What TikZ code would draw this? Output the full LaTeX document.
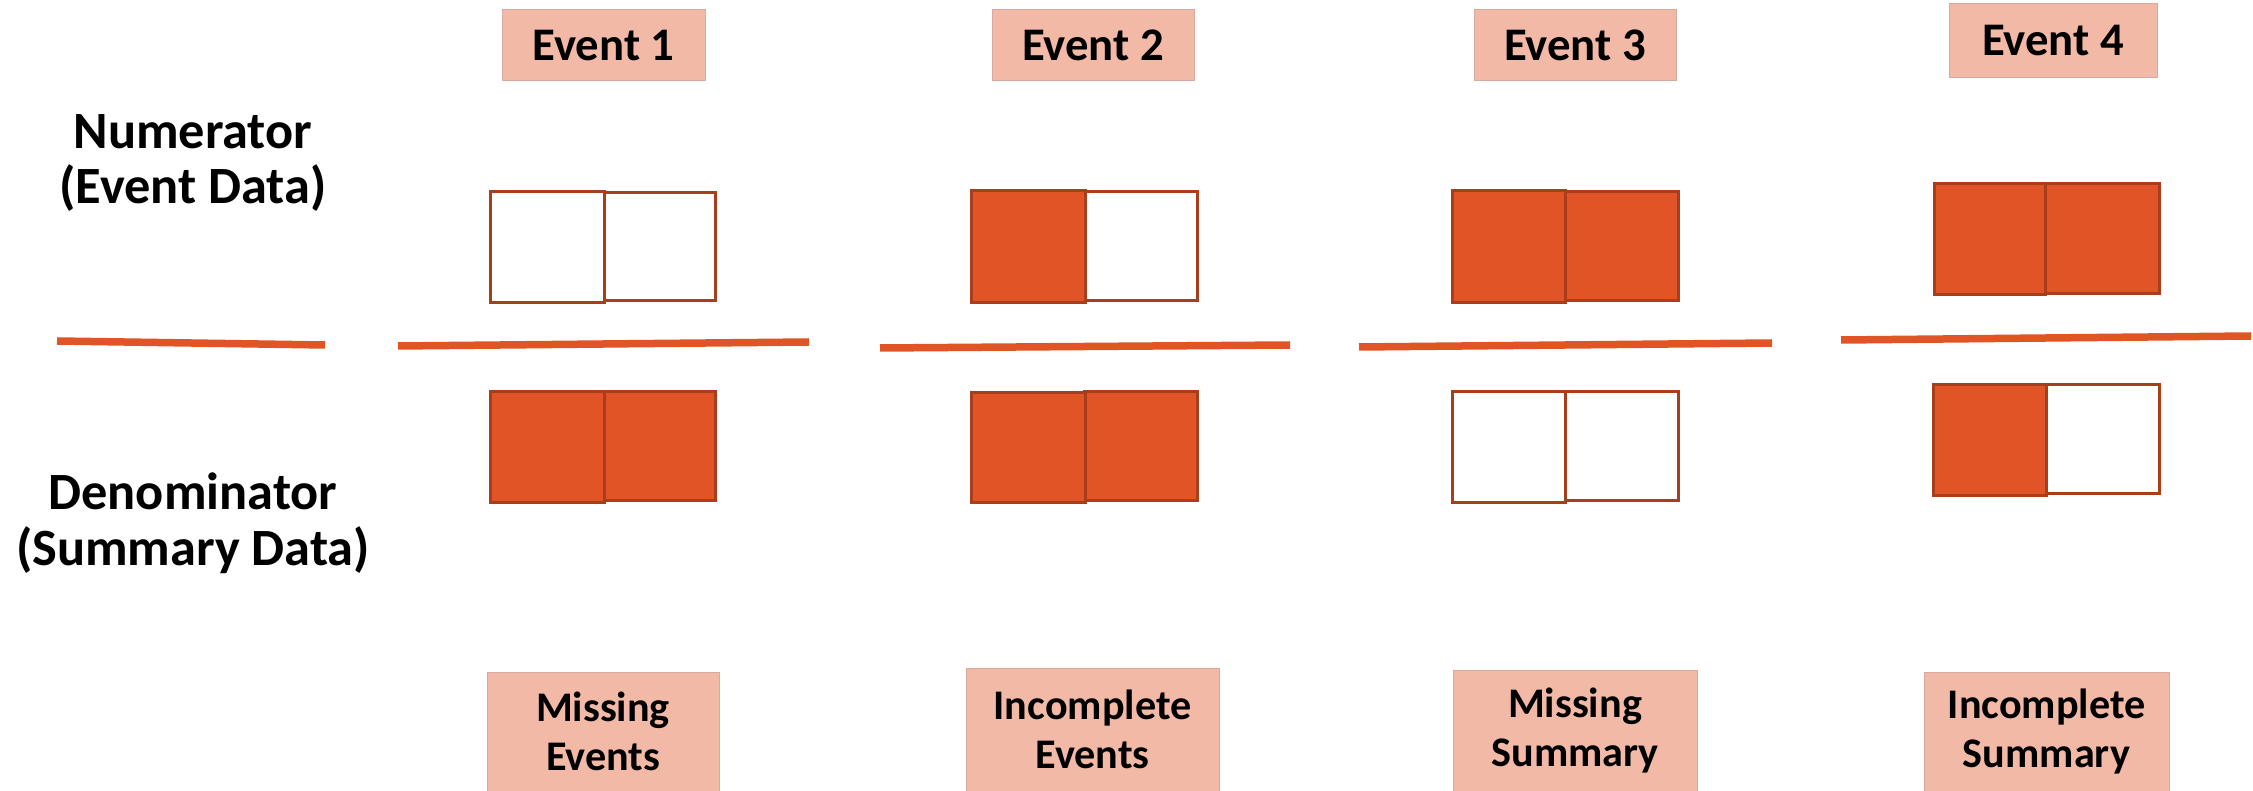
\documentclass[tikz,border=0pt]{standalone}
\usepackage{fontspec}
\setmainfont{Carlito}
\definecolor{orfill}{HTML}{E15426}
\definecolor{ordark}{HTML}{A83E1C}
\definecolor{pinkfill}{HTML}{F3B9A7}
\definecolor{pinkline}{HTML}{D6AAA0}
\begin{document}
\begin{tikzpicture}[x=0.1mm,y=-0.1mm,
  sidelabel/.style={inner sep=0pt, align=center, font=\fontsize{14.9pt}{15.9pt}\selectfont\bfseries},
  titlebox/.style={draw=pinkline, line width=0.1mm, fill=pinkfill, inner sep=0pt, font=\fontsize{13.3pt}{15pt}\selectfont\bfseries},
  kindbox/.style={draw=pinkline, line width=0.1mm, fill=pinkfill, inner sep=0pt, align=center, font=\fontsize{12pt}{13.9pt}\selectfont\bfseries},
  cellempty/.style={draw=ordark, line width=0.3mm, fill=white, inner sep=0pt},
  cellfull/.style={draw=ordark, line width=0.3mm, fill=orfill, inner sep=0pt},
  bar/.style={draw=orfill, line width=0.75mm}]
\useasboundingbox (0,0) rectangle (2253,791);
\fill[white] (0,0) rectangle (2253,791);

% side labels
\node[sidelabel] (num) at (193,163) {Numerator\\(Event Data)};
\node[sidelabel] (den) at (193,523) {Denominator\\(Summary Data)};

% event titles
\node[titlebox, minimum width=20.3mm, minimum height=7.1mm] (ev1) at (603.5,45.5) {Event 1};
\node[titlebox, minimum width=20.2mm, minimum height=7.1mm] (ev2) at (1093,45.5) {Event 2};
\node[titlebox, minimum width=20.2mm, minimum height=7.1mm] (ev3) at (1575,45.5) {Event 3};
\node[titlebox, minimum width=20.8mm, minimum height=7.4mm] (ev4) at (2053,41) {Event 4};

% fraction bars
\coordinate (b0l) at (57,341);   \coordinate (b0r) at (325,345);
\coordinate (b1l) at (398,346);  \coordinate (b1r) at (809,342);
\coordinate (b2l) at (880,348);  \coordinate (b2r) at (1290,345);
\coordinate (b3l) at (1359,347); \coordinate (b3r) at (1772,343);
\coordinate (b4l) at (1841,340); \coordinate (b4r) at (2251,336);
\draw[bar] (b0l) -- (b0r);
\draw[bar] (b1l) -- (b1r);
\draw[bar] (b2l) -- (b2r);
\draw[bar] (b3l) -- (b3r);
\draw[bar] (b4l) -- (b4r);

% Event 1
\node[cellempty, minimum width=11.1mm, minimum height=10.8mm] (n1b) at (659.5,247) {};
\node[cellempty, minimum width=11.4mm, minimum height=11.1mm] (n1a) at (547,247.5) {};
\node[cellfull, minimum width=11.1mm, minimum height=10.9mm] (d1b) at (659.5,446.5) {};
\node[cellfull, minimum width=11.4mm, minimum height=11.1mm] (d1a) at (547,447.5) {};
% Event 2
\node[cellempty, minimum width=11.2mm, minimum height=10.9mm] (n2b) at (1141,246.5) {};
\node[cellfull, minimum width=11.4mm, minimum height=11.2mm] (n2a) at (1028,247) {};
\node[cellfull, minimum width=11.3mm, minimum height=10.9mm] (d2b) at (1140.5,446.5) {};
\node[cellfull, minimum width=11.4mm, minimum height=11.0mm] (d2a) at (1028,448) {};
% Event 3
\node[cellfull, minimum width=11.3mm, minimum height=10.9mm] (n3b) at (1621.5,246.5) {};
\node[cellfull, minimum width=11.3mm, minimum height=11.2mm] (n3a) at (1508.5,247) {};
\node[cellempty, minimum width=11.3mm, minimum height=10.9mm] (d3b) at (1621.5,446.5) {};
\node[cellempty, minimum width=11.3mm, minimum height=11.1mm] (d3a) at (1508.5,447.5) {};
% Event 4
\node[cellfull, minimum width=11.4mm, minimum height=11.0mm] (n4b) at (2102,239) {};
\node[cellfull, minimum width=11.1mm, minimum height=11.1mm] (n4a) at (1989.5,239.5) {};
\node[cellempty, minimum width=11.3mm, minimum height=10.9mm] (d4b) at (2102.5,439.5) {};
\node[cellfull, minimum width=11.3mm, minimum height=11.1mm] (d4a) at (1989.5,440.5) {};

% kinds
\node[kindbox, minimum width=23.2mm, minimum height=11.9mm] (k1) at (603,731.5) {Missing\\Events};
\node[kindbox, minimum width=25.3mm, minimum height=12.3mm] (k2) at (1092.5,729.5) {Incomplete\\Events};
\node[kindbox, minimum width=24.4mm, minimum height=12.1mm] (k3) at (1575,730.5) {Missing\\Summary};
\node[kindbox, minimum width=24.5mm, minimum height=11.9mm] (k4) at (2046.5,731.5) {Incomplete\\Summary};
\end{tikzpicture}
\end{document}
